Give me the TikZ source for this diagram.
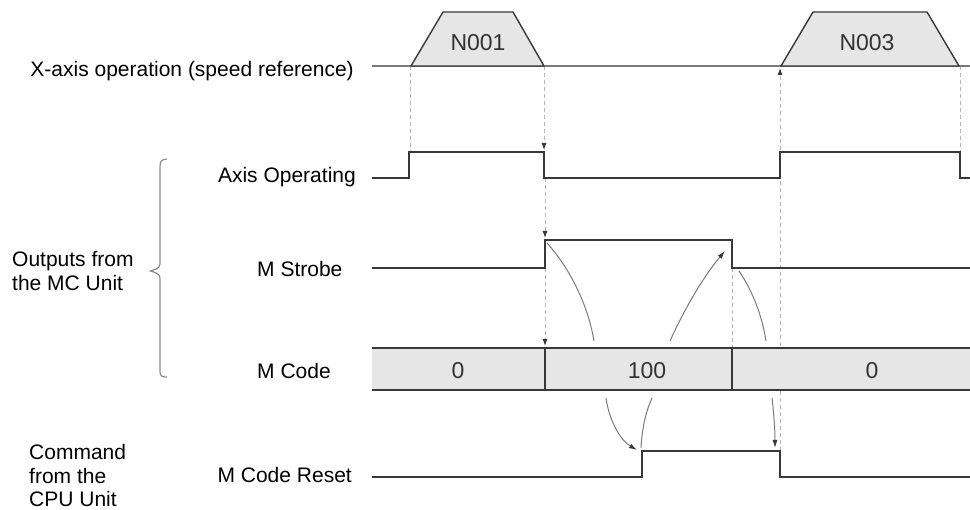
\documentclass[tikz,border=0pt]{standalone}
\usepackage{fontspec}
\setmainfont{Liberation Sans}
\usetikzlibrary{arrows.meta}
\definecolor{sig}{HTML}{383838}
\definecolor{guidegray}{HTML}{B4B4B4}
\definecolor{flowgray}{HTML}{7A7A7A}
\definecolor{bandfill}{HTML}{E6E6E6}
\definecolor{darktext}{HTML}{333333}
\definecolor{bracegray}{HTML}{8C8C8C}
\tikzset{
  sigline/.style={draw=sig, line width=1.6pt, line join=miter},
  axisline/.style={draw=flowgray, line width=1.1pt},
  guide/.style={draw=guidegray, line width=0.9pt, dash pattern=on 4pt off 3pt},
  guidearrow/.style={guide, -{Latex[length=7pt,width=5pt,color=sig]}},
  flow/.style={draw=flowgray, line width=1pt},
  flowarrow/.style={flow, -{Latex[length=8pt,width=5pt,color=sig]}},
  lbl/.style={text=black, inner sep=0pt},
  dlbl/.style={text=darktext, font=\fontsize{23}{26}\selectfont, inner sep=0pt},
  trap/.style={fill=bandfill, draw=sig, line width=1.4pt, line join=round},
}
\begin{document}
\begin{tikzpicture}[x=1pt,y=-1pt,font=\fontsize{21}{24}\selectfont]
\useasboundingbox (0,0) rectangle (970,510);

% ---------- labels ----------
\node[lbl,anchor=base east] (lx) at (354,76.5) {X-axis operation (speed reference)};
\node[lbl,anchor=base east] (lax) at (356,183) {Axis Operating};
\node[lbl,anchor=base west] (lms) at (257,277) {M Strobe};
\node[lbl,anchor=base west] (lmc) at (257,379) {M Code};
\node[lbl,anchor=base east] (lmr) at (352,483) {M Code Reset};
\node[lbl,anchor=base west] (out1) at (12,267) {Outputs from};
\node[lbl,anchor=base west] (out2) at (12,291) {the MC Unit};
\node[lbl,anchor=base west] (cmd1) at (29,460) {Command};
\node[lbl,anchor=base west] (cmd2) at (29,483.5) {from the};
\node[lbl,anchor=base west] (cmd3) at (29,507) {CPU Unit};

% brace
\draw[draw=bracegray, line width=1.2pt, line join=round]
  (167,159) .. controls (161,159) and (160,162) .. (160,167)
  -- (160,264) .. controls (160,268) and (155,270) .. (150,271)
  .. controls (155,272) and (160,274) .. (160,278)
  -- (160,371) .. controls (160,376) and (161,377) .. (167,377);

% ---------- guide (dashed) lines ----------
\draw[guide] (410,66) -- (410,152);
\draw[guidearrow] (544,66) -- (544,150);
\draw[guidearrow] (545,178) -- (545,238);
\draw[guidearrow] (545,268) -- (545,346);
\draw[guide] (732,268) -- (732,348);
\draw[guide] (960,66) -- (960,152);
\draw[guidearrow] (780,451) -- (780,68);

% ---------- M Code band ----------
\fill[bandfill] (372,348) rectangle (970,390);
\draw[sigline] (372,348) -- (970,348);
\draw[sigline] (372,390) -- (970,390);
\draw[sigline] (545,348) -- (545,390);
\draw[sigline] (732,348) -- (732,390);
\node[dlbl] (c0) at (458,370.5) {0};
\node[dlbl] (c100) at (647,370.5) {100};
\node[dlbl] (c0b) at (872,370.5) {0};

% ---------- X-axis operation ----------
\draw[axisline] (372,66) -- (970,66);
\draw[trap] (411,66) -- (443,12) -- (513,12) -- (544,66) -- cycle;
\draw[trap] (781,66) -- (813,12) -- (927,12) -- (959,66) -- cycle;
\node[dlbl] (n1) at (478,43) {N001};
\node[dlbl] (n3) at (867,43) {N003};

% ---------- signals ----------
\draw[sigline] (372,178) -- (409,178) -- (409,152) -- (544,152) -- (544,178)
  -- (780,178) -- (780,152) -- (960,152) -- (960,178) -- (970,178);
\draw[sigline] (372,268) -- (545,268) -- (545,240) -- (732,240) -- (732,268) -- (970,268);
\draw[sigline] (372,477) -- (642,477) -- (642,451) -- (780,451) -- (780,477) -- (970,477);

% ---------- handshake curves ----------
\draw[flow] (547,243) .. controls (573,272) and (589,310) .. (594,341);
\draw[flowarrow] (606,398) .. controls (609,420) and (620,440) .. (637,450);
\draw[flow] (641,448) .. controls (642,428) and (646,411) .. (652,398);
\draw[flowarrow] (670,341) .. controls (684,310) and (703,277) .. (725,251);
\draw[flow] (739,271) .. controls (752,290) and (762,315) .. (766,341);
\draw[flowarrow] (772,398) .. controls (774,415) and (775,430) .. (775,448);
\end{tikzpicture}
\end{document}
